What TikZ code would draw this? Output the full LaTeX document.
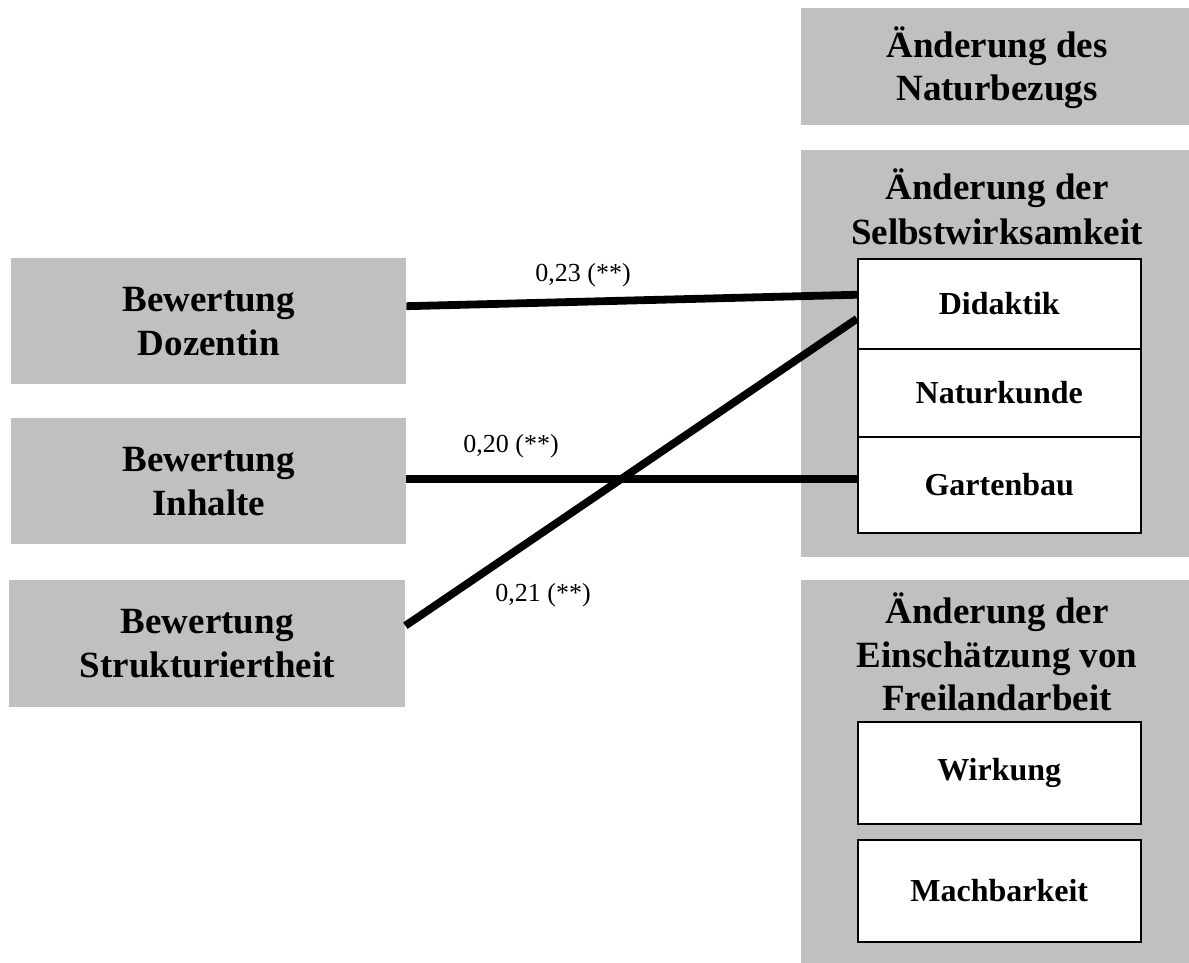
\documentclass[tikz,border=0pt]{standalone}
\usepackage{fontspec}
\setmainfont{Liberation Serif}
\begin{document}
\definecolor{boxgrey}{RGB}{192,192,192}
\begin{tikzpicture}[x=1pt,y=-1pt,
  greybox/.style={fill=boxgrey,draw=none,inner sep=0pt,anchor=north west},
  leftbox/.style={fill=boxgrey,draw=none,inner sep=0pt,anchor=north west,
    align=center,font=\bfseries\fontsize{37}{44}\selectfont},
  headline/.style={anchor=base,inner sep=0pt,font=\bfseries\fontsize{37}{44}\selectfont},
  cell/.style={fill=white,draw=black,line width=1.5pt,inner sep=0pt,anchor=north west,
    minimum width=283pt,font=\bfseries\fontsize{32}{38}\selectfont},
  coef/.style={inner sep=0pt,font=\fontsize{26}{30}\selectfont},
  link/.style={line width=7.8pt,draw=black}]
\useasboundingbox (0,0) rectangle (1189,963);

% predictors on the left
\node[leftbox,minimum width=395pt,minimum height=126pt] (doz) at (11,258) {Bewertung\\Dozentin};
\node[leftbox,minimum width=395pt,minimum height=126pt] (inh) at (11,418) {Bewertung\\Inhalte};
\node[leftbox,minimum width=396pt,minimum height=127pt] (str) at (9,580) {Bewertung\\Strukturiertheit};

% outcome blocks on the right
\node[greybox,minimum width=388pt,minimum height=117pt] (nat) at (801,8) {};
\node[greybox,minimum width=388pt,minimum height=407pt] (selbst) at (801,150) {};
\node[greybox,minimum width=388pt,minimum height=385pt] (frei) at (801,580) {};

\node[headline] (nat1) at (997,58) {Änderung des};
\node[headline] (nat2) at (997,101) {Naturbezugs};
\node[headline] (selbst1) at (997,200) {Änderung der};
\node[headline] (selbst2) at (997,244) {Selbstwirksamkeit};
\node[headline] (frei1) at (997,623) {Änderung der};
\node[headline] (frei2) at (997,667) {Einschätzung von};
\node[headline] (frei3) at (997,710) {Freilandarbeit};

% sub-scales
\node[cell,minimum height=90pt] (did) at (857,258) {Didaktik};
\node[cell,minimum height=88pt] (natk) at (857,348) {Naturkunde};
\node[cell,minimum height=96pt] (gart) at (857,436) {Gartenbau};
\node[cell,minimum height=102pt] (wirk) at (857,721) {Wirkung};
\node[cell,minimum height=102pt] (mach) at (857,839) {Machbarkeit};

% significant paths
\draw[link] ([yshift=15pt]doz.east) -- ([yshift=9pt]did.west);
\draw[link] ([yshift=2pt]inh.east) -- ([yshift=2pt]inh.east -| gart.west);
\draw[link] ([yshift=18pt]str.east) -- ([yshift=-15pt]did.west);

% path coefficients
\node[coef] (c1) at (583,275) {0,23 (**)};
\node[coef] (c2) at (511,446) {0,20 (**)};
\node[coef] (c3) at (543,595) {0,21 (**)};
\end{tikzpicture}
\end{document}
